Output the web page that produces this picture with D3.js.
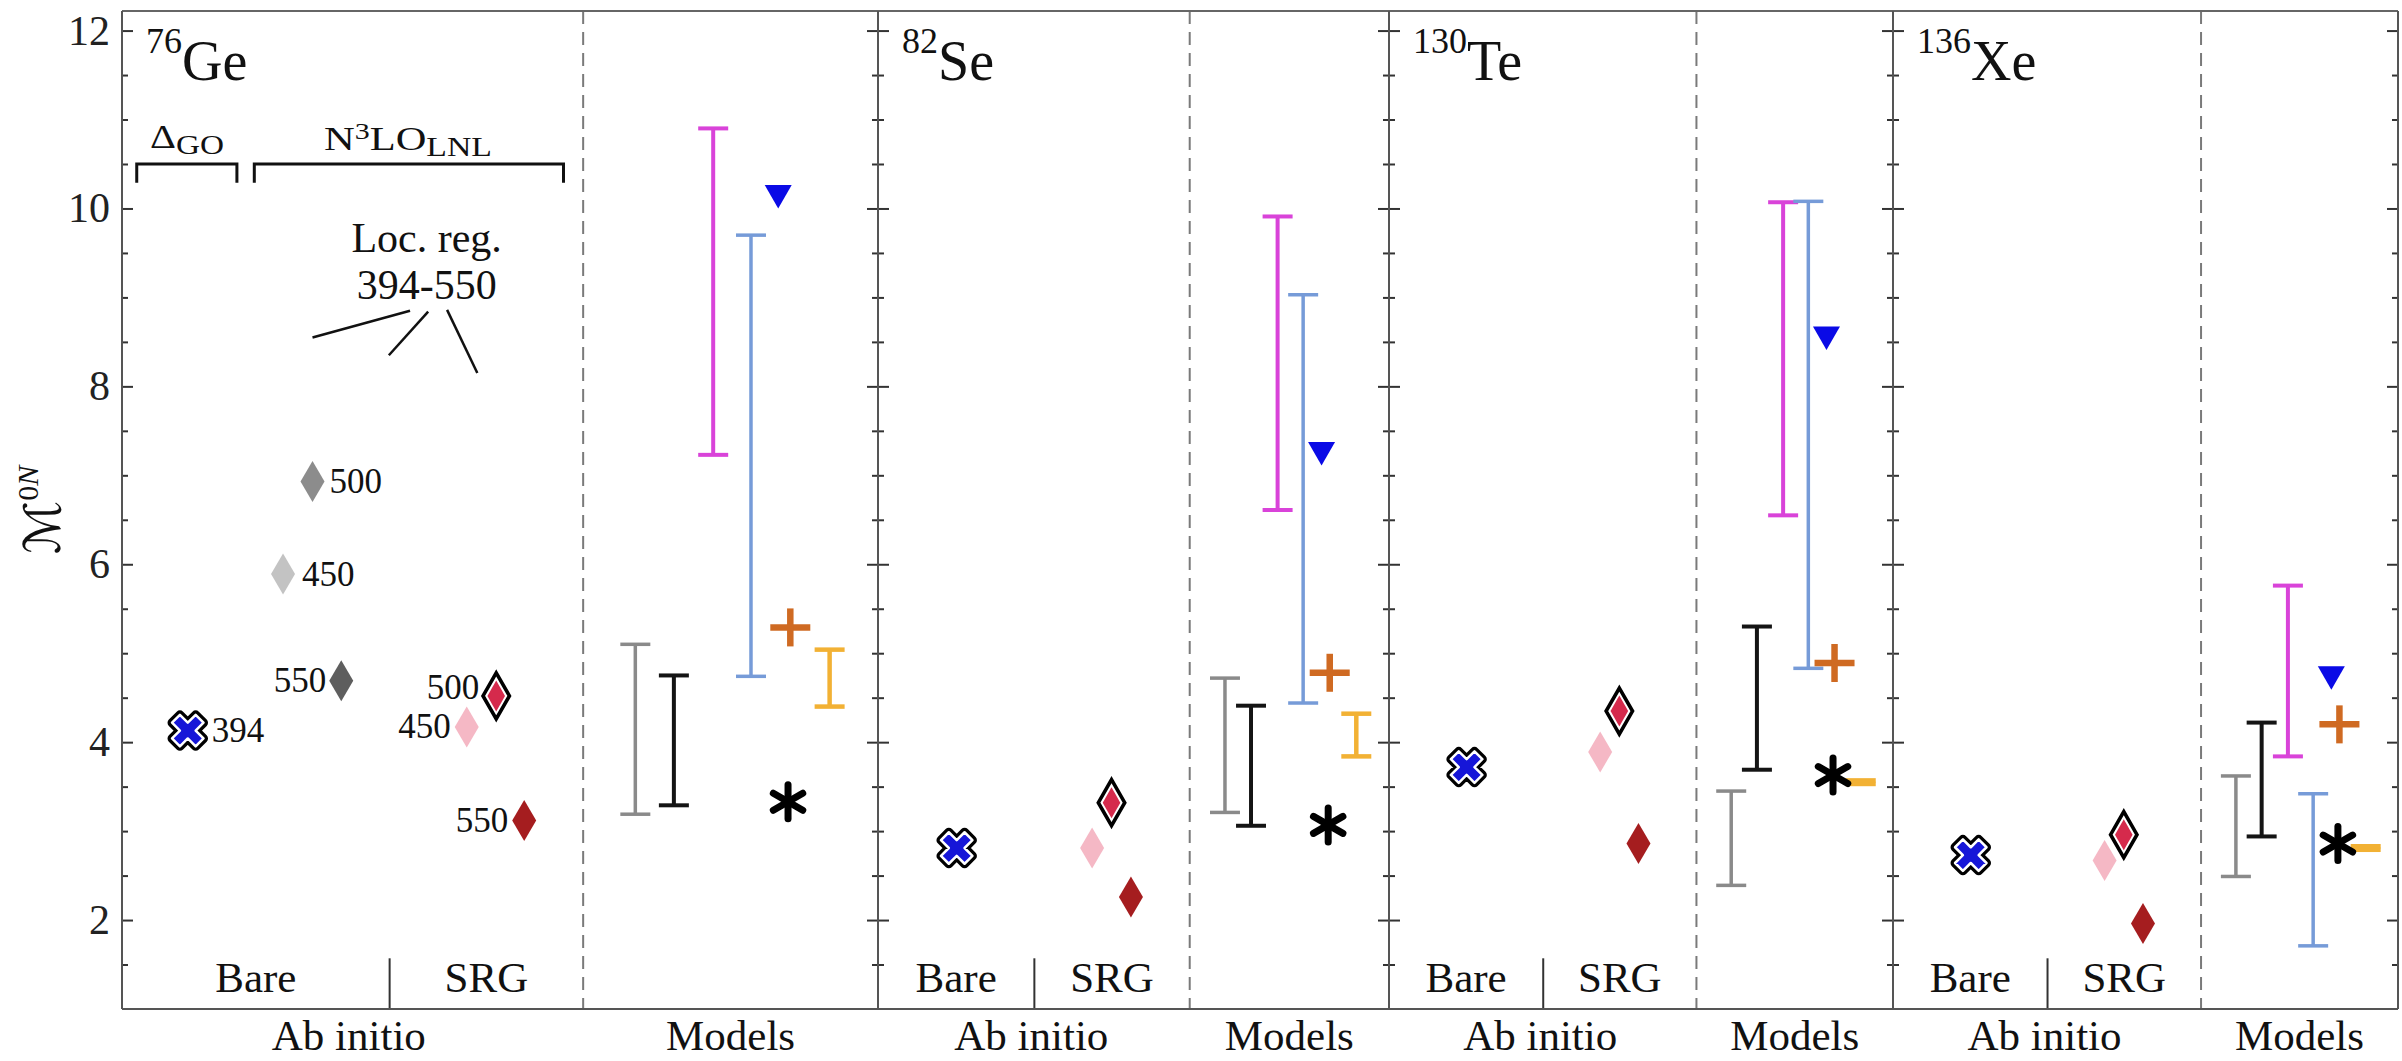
<!DOCTYPE html>
<html><head><meta charset="utf-8">
<script src="https://cdn.jsdelivr.net/npm/d3@7"></script>
<style>html,body{margin:0;padding:0;background:#fff;}svg{display:block;}</style>
</head><body><svg id="chart" width="2402" height="1061"></svg>
<script>
// ---------------- data ----------------
const isotopeMass   = ["76", "82", "130", "136"];
const isotopeSymbol = ["Ge", "Se", "Te", "Xe"];
const yTickValues   = [2, 4, 6, 8, 10, 12];
const yTickLabels   = ["2", "4", "6", "8", "10", "12"];
// Ab initio
const deltaGO394 = [4.13, 2.81, 3.72, 2.73];         // blue cross, all nuclei
const bareGeCutoffs = ["450", "500", "550"];          // bare N3LO_LNL, only 76Ge
const bareGeValues  = [5.89, 6.93, 4.69];
const srgCutoffs = ["450", "500", "550"];
const srg450 = [4.17, 2.81, 3.89, 2.67];
const srg500 = [4.52, 3.32, 4.35, 2.96];
const srg550 = [3.12, 2.26, 2.86, 1.96];
// Models (ranges [low, high])
const grayRange    = [[3.19, 5.10], [3.21, 4.72], [2.39, 3.45], [2.49, 3.62]];
const blackRange   = [[3.29, 4.75], [3.06, 4.41], [3.69, 5.30], [2.94, 4.22]];
const magentaRange = [[7.23, 10.90], [6.61, 9.91], [6.55, 10.07], [3.84, 5.76]];
const blueRange    = [[4.74, 9.70], [4.44, 9.03], [4.83, 10.08], [1.71, 3.42]];
const goldRange    = [[4.40, 5.04], [3.84, 4.32], [3.53, 3.57], [2.79, 2.83]];
const triangleVals = [10.14, 7.25, 8.55, 4.73];
const plusVals     = [5.29, 4.78, 4.89, 4.20];
const asteriskVals = [3.33, 3.07, 3.63, 2.86];
const groupLabels  = ["Ab initio", "Models"];
const subLabels    = ["Bare", "SRG"];

// ---------------- layout ----------------
const FONT = "'Liberation Serif','Times New Roman',serif";
const svg = d3.select("#chart");
const edges = [122, 878, 1389, 1893, 2398];
const yTop = 11, yBot = 1009;
const y = d3.scaleLinear().domain([1, 12.22]).range([yBot, yTop]);
const xs = isotopeSymbol.map((_, i) => d3.scaleLinear().domain([0, 10]).range([edges[i], edges[i + 1]]));

const uModels = {gray: 6.79, black: 7.30, magenta: 7.82, blue: 8.32, tri: 8.68, plus: 8.84, ast: 8.81, gold: 9.36};
const uDashed = 6.1;
const uAb = [
  {cross: 0.87, sep: 3.54, srg: [4.56, 4.95, 5.32]},
  {cross: 1.54, sep: 3.06, srg: [4.19, 4.57, 4.95]},
  {cross: 1.54, sep: 3.06, srg: [4.19, 4.57, 4.95]},
  {cross: 1.54, sep: 3.06, srg: [4.19, 4.57, 4.95]}
];
const uBareGe = [2.13, 2.52, 2.90];

const colors = {
  gray: "#8a8a8a", black: "#141414", magenta: "#d943d9", blue: "#769bd8", gold: "#f2b134",
  tri: "#0a0ae6", plus: "#cf6a22",
  bare: ["#c3c3c3", "#8c8c8c", "#5e5e5e"],
  srg: ["#f5b8c5", "#d52a4c", "#a51d1f"]
};

// dashed separators + Bare/SRG separators
isotopeSymbol.forEach((_, i) => {
  const x = xs[i];
  svg.append("line").attr("x1", x(uDashed)).attr("x2", x(uDashed)).attr("y1", yTop).attr("y2", yBot)
    .attr("stroke", "#7a7a7a").attr("stroke-width", 2).attr("stroke-dasharray", "13,8");
  svg.append("line").attr("x1", x(uAb[i].sep)).attr("x2", x(uAb[i].sep)).attr("y1", y(1)).attr("y2", y(1.57))
    .attr("stroke", "#333").attr("stroke-width", 2);
});

// ticks via d3 axes
const majorVals = yTickValues;
const minorVals = d3.range(1.5, 12.01, 0.5).filter(v => v % 2 !== 0);
function tickAxis(gen, xpos, vals, size) {
  svg.append("g").attr("transform", `translate(${xpos},0)`)
    .call(gen(y).tickValues(vals).tickSize(size).tickFormat(""))
    .call(g => g.select(".domain").remove())
    .call(g => g.selectAll("line").attr("stroke", "#333").attr("stroke-width", 2));
}
edges.forEach((ex, j) => {
  if (j < 4) { tickAxis(d3.axisRight, ex, majorVals, 11); tickAxis(d3.axisRight, ex, minorVals, 6); }
  if (j > 0) { tickAxis(d3.axisLeft, ex, majorVals, 11); tickAxis(d3.axisLeft, ex, minorVals, 6); }
});

// y tick labels
svg.append("g").attr("transform", `translate(${edges[0]},0)`)
  .call(d3.axisLeft(y).tickValues(yTickValues).tickSize(0).tickPadding(12).tickFormat((d, i) => yTickLabels[i]))
  .call(g => g.select(".domain").remove())
  .call(g => g.selectAll("text").attr("font-family", FONT).attr("font-size", 42).attr("fill", "#222"));

// frame
svg.append("line").attr("x1", edges[0]).attr("x2", edges[4]).attr("y1", yTop).attr("y2", yTop).attr("stroke", "#666").attr("stroke-width", 2);
svg.append("line").attr("x1", edges[0]).attr("x2", edges[4]).attr("y1", yBot).attr("y2", yBot).attr("stroke", "#555").attr("stroke-width", 2);
edges.forEach(ex => svg.append("line").attr("x1", ex).attr("x2", ex).attr("y1", yTop).attr("y2", yBot).attr("stroke", "#555").attr("stroke-width", 2));

// y axis title
const yt = svg.append("text").attr("transform", "translate(60,510) rotate(-90)")
  .attr("text-anchor", "middle").attr("fill", "#111");
yt.append("tspan").attr("font-family", "'DejaVu Serif','DejaVu Sans',serif").attr("font-size", 50).attr("font-style", "italic").text("ℳ");
yt.append("tspan").attr("font-family", FONT).attr("font-size", 30).attr("dy", -22).text("0");
yt.append("tspan").attr("font-family", FONT).attr("font-size", 30).attr("font-style", "italic").text("N");

// helpers
function errorBar(x, u, range, color, w) {
  const cx = x(u);
  const g = svg.append("g").attr("stroke", color).attr("stroke-width", w);
  g.append("line").attr("x1", cx).attr("x2", cx).attr("y1", y(range[0])).attr("y2", y(range[1]));
  range.forEach(v => g.append("line").attr("x1", cx - 15).attr("x2", cx + 15).attr("y1", y(v)).attr("y2", y(v)));
}
const diamond = (hw, hh) => `M0,${-hh}L${hw},0L0,${hh}L${-hw},0Z`;
function plainDiamond(cx, cy, color) {
  svg.append("path").attr("d", diamond(12, 20.5)).attr("transform", `translate(${cx},${cy})`).attr("fill", color);
}
function outlinedDiamond(cx, cy, color) {
  svg.append("path").attr("d", diamond(13.2, 23)).attr("transform", `translate(${cx},${cy})`)
    .attr("fill", "#fff").attr("stroke", "#000").attr("stroke-width", 3.6).attr("stroke-linejoin", "miter");
  svg.append("path").attr("d", diamond(8.8, 15.5)).attr("transform", `translate(${cx},${cy})`).attr("fill", color);
}
function crossMarker(cx, cy) {
  const p = d3.symbol(d3.symbolCross, 620)();
  const t = `translate(${cx},${cy}) rotate(45)`;
  svg.append("path").attr("d", p).attr("transform", t).attr("fill", "#000").attr("stroke", "#000").attr("stroke-width", 9).attr("stroke-linejoin", "round");
  svg.append("path").attr("d", p).attr("transform", t).attr("fill", "#1616d8").attr("stroke", "#fff").attr("stroke-width", 2.5).attr("stroke-linejoin", "round");
}
function asterisk(cx, cy) {
  const g = svg.append("g").attr("transform", `translate(${cx},${cy})`).attr("stroke", "#000").attr("stroke-width", 7).attr("stroke-linecap", "round");
  [90, 30, 150].forEach(a => {
    const r = a * Math.PI / 180, L = 17;
    g.append("line").attr("x1", -L * Math.cos(r)).attr("y1", -L * Math.sin(r)).attr("x2", L * Math.cos(r)).attr("y2", L * Math.sin(r));
  });
}
function label(xp, yp, txt, anchor, size) {
  svg.append("text").attr("x", xp).attr("y", yp).attr("text-anchor", anchor || "start")
    .attr("font-family", FONT).attr("font-size", size || 35).attr("fill", "#111").text(txt);
}

// panels
isotopeSymbol.forEach((sym, i) => {
  const x = xs[i];
  // isotope label
  const t = svg.append("text").attr("x", edges[i] + 24).attr("y", 80).attr("font-family", FONT).attr("fill", "#111");
  t.append("tspan").attr("font-size", 36).attr("dy", -27).text(isotopeMass[i]);
  t.append("tspan").attr("font-size", 56).attr("dy", 27).text(sym);

  // model error bars
  errorBar(x, uModels.gray, grayRange[i], colors.gray, 3.5);
  errorBar(x, uModels.black, blackRange[i], colors.black, 4);
  errorBar(x, uModels.magenta, magentaRange[i], colors.magenta, 4);
  errorBar(x, uModels.blue, blueRange[i], colors.blue, 3.5);
  errorBar(x, uModels.gold, goldRange[i], colors.gold, 4.5);
  // triangle
  svg.append("path").attr("d", "M-13.5,-11L13.5,-11L0,12.5Z")
    .attr("transform", `translate(${x(uModels.tri)},${y(triangleVals[i])})`).attr("fill", colors.tri);
  // plus
  const pg = svg.append("g").attr("transform", `translate(${x(uModels.plus)},${y(plusVals[i])})`)
    .attr("stroke", colors.plus).attr("stroke-width", 6.5);
  pg.append("line").attr("x1", -20).attr("x2", 20).attr("y1", 0).attr("y2", 0);
  pg.append("line").attr("x1", 0).attr("x2", 0).attr("y1", -19).attr("y2", 19);
  // asterisk
  asterisk(x(uModels.ast), y(asteriskVals[i]));

  // ab initio
  crossMarker(x(uAb[i].cross), y(deltaGO394[i]));
  plainDiamond(x(uAb[i].srg[0]), y(srg450[i]), colors.srg[0]);
  outlinedDiamond(x(uAb[i].srg[1]), y(srg500[i]), colors.srg[1]);
  plainDiamond(x(uAb[i].srg[2]), y(srg550[i]), colors.srg[2]);

  // bottom labels
  label(x(uAb[i].sep / 2), 992, subLabels[0], "middle", 43);
  label(x((uAb[i].sep + uDashed) / 2), 992, subLabels[1], "middle", 43);
  label(x(3.0), 1050, groupLabels[0], "middle", 43);
  label(x((uDashed + 10) / 2), 1050, groupLabels[1], "middle", 43);
});

// 76Ge extras: bare diamonds & cutoff labels
const x0 = xs[0];
uBareGe.forEach((u, k) => plainDiamond(x0(u), y(bareGeValues[k]), colors.bare[k]));
label(x0(uBareGe[0]) + 19, y(bareGeValues[0]) + 12, bareGeCutoffs[0]);
label(x0(uBareGe[1]) + 17, y(bareGeValues[1]) + 11, bareGeCutoffs[1]);
label(x0(uBareGe[2]) - 15, y(bareGeValues[2]) + 11, bareGeCutoffs[2], "end");
label(x0(uAb[0].cross) + 24, y(deltaGO394[0]) + 11, "394");
label(x0(uAb[0].srg[0]) - 16, y(srg450[0]) + 11, srgCutoffs[0], "end");
label(x0(uAb[0].srg[1]) - 17, y(srg500[0]) + 3, srgCutoffs[1], "end");
label(x0(uAb[0].srg[2]) - 16, y(srg550[0]) + 12, srgCutoffs[2], "end");

// brackets
function bracket(u1, u2) {
  const yb = y(10.5), yd = y(10.29);
  svg.append("path").attr("d", `M${x0(u1)},${yd}V${yb}H${x0(u2)}V${yd}`)
    .attr("fill", "none").attr("stroke", "#111").attr("stroke-width", 3);
}
bracket(0.195, 1.52);
bracket(1.75, 5.84);
const dg = svg.append("text").attr("x", 150).attr("y", 148).attr("font-family", FONT).attr("fill", "#111")
  .attr("textLength", 74).attr("lengthAdjust", "spacingAndGlyphs");
dg.append("tspan").attr("font-size", 34).text("Δ");
dg.append("tspan").attr("font-size", 28).attr("dy", 6).text("GO");
const nl = svg.append("text").attr("x", 324).attr("y", 150).attr("font-family", FONT).attr("fill", "#111")
  .attr("textLength", 168).attr("lengthAdjust", "spacingAndGlyphs");
nl.append("tspan").attr("font-size", 34).text("N");
nl.append("tspan").attr("font-size", 24).attr("dy", -11).text("3");
nl.append("tspan").attr("font-size", 34).attr("dy", 11).text("LO");
nl.append("tspan").attr("font-size", 27).attr("dy", 6).text("LNL");

// Loc. reg. annotation
label(x0(4.03), 252, "Loc. reg.", "middle", 42);
label(x0(4.03), 299, "394-550", "middle", 42);
[[2.52, 8.55, 3.81, 8.85], [3.53, 8.35, 4.05, 8.84], [4.30, 8.86, 4.70, 8.15]].forEach(s => {
  svg.append("line").attr("x1", x0(s[0])).attr("y1", y(s[1])).attr("x2", x0(s[2])).attr("y2", y(s[3]))
    .attr("stroke", "#111").attr("stroke-width", 2.5);
});
</script></body></html>
